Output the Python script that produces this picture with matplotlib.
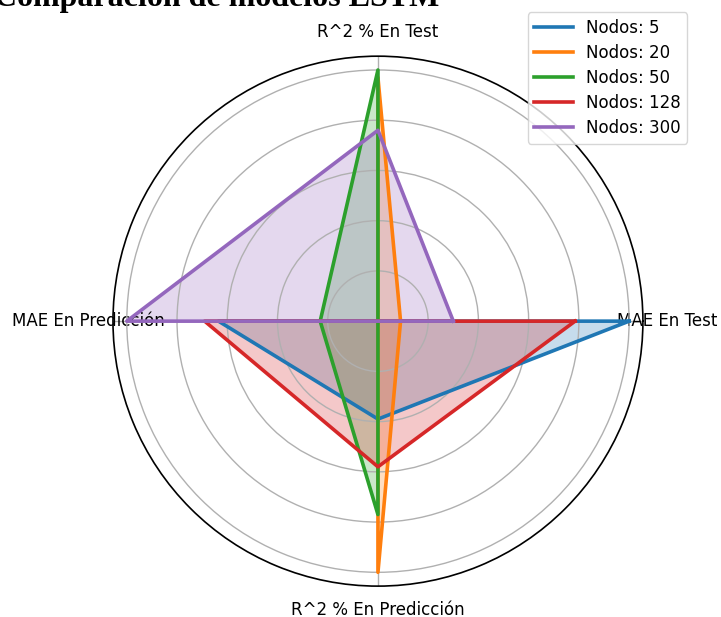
import numpy as np
import matplotlib
matplotlib.use("Agg")
import matplotlib.pyplot as plt


# metrics shown on each spoke (normalised to the best model per metric)
categorias = ["MAE En Test", "R^2 % En Test", "MAE En Predicción", "R^2 % En Predicción"]
nodos = [5, 20, 50, 128, 300]

valores_5 = [1.00, 0.00, 0.635, 0.39]
valores_20 = [0.09, 0.97, 0.00, 1.00]
valores_50 = [0.00, 1.00, 0.23, 0.77]
valores_128 = [0.785, 0.00, 0.69, 0.58]
valores_300 = [0.30, 0.76, 1.00, 0.00]

series = [valores_5, valores_20, valores_50, valores_128, valores_300]
colores = ["#1f77b4", "#ff7f0e", "#2ca02c", "#d62728", "#9467bd"]

angulos = np.linspace(0, 2 * np.pi, len(categorias), endpoint=False).tolist()
angulos += angulos[:1]

fig = plt.figure(figsize=(7.21, 6.17), dpi=100)
ax = fig.add_axes([0.1567, 0.050, 0.735, 0.859], projection="polar")

for n, vals, c in zip(nodos, series, colores):
    v = vals + vals[:1]
    ax.plot(angulos, v, color=c, linewidth=2.6, label=f"Nodos: {n}")
    ax.fill(angulos, v, color=c, alpha=0.25)

ax.set_ylim(0, 1.055)
ax.set_yticks([0.2, 0.4, 0.6, 0.8, 1.0])
ax.set_yticklabels([])
ax.set_xticks(angulos[:-1])
ax.set_xticklabels(categorias, fontsize=12)
ax.tick_params(axis="x", pad=7)
ax.grid(color="#b0b0b0", linewidth=1.0)
ax.spines["polar"].set_linewidth(1.2)

fig.legend(loc="upper right", bbox_to_anchor=(0.965, 0.9935), fontsize=12,
           handlelength=2.3, borderpad=0.4, labelspacing=0.42)

fig.text(-0.008, 0.99, "Comparación de modelos LSTM", fontsize=23, fontweight="bold",
         family="Liberation Serif", ha="left", va="baseline")

fig.savefig("out.png", dpi=100)
